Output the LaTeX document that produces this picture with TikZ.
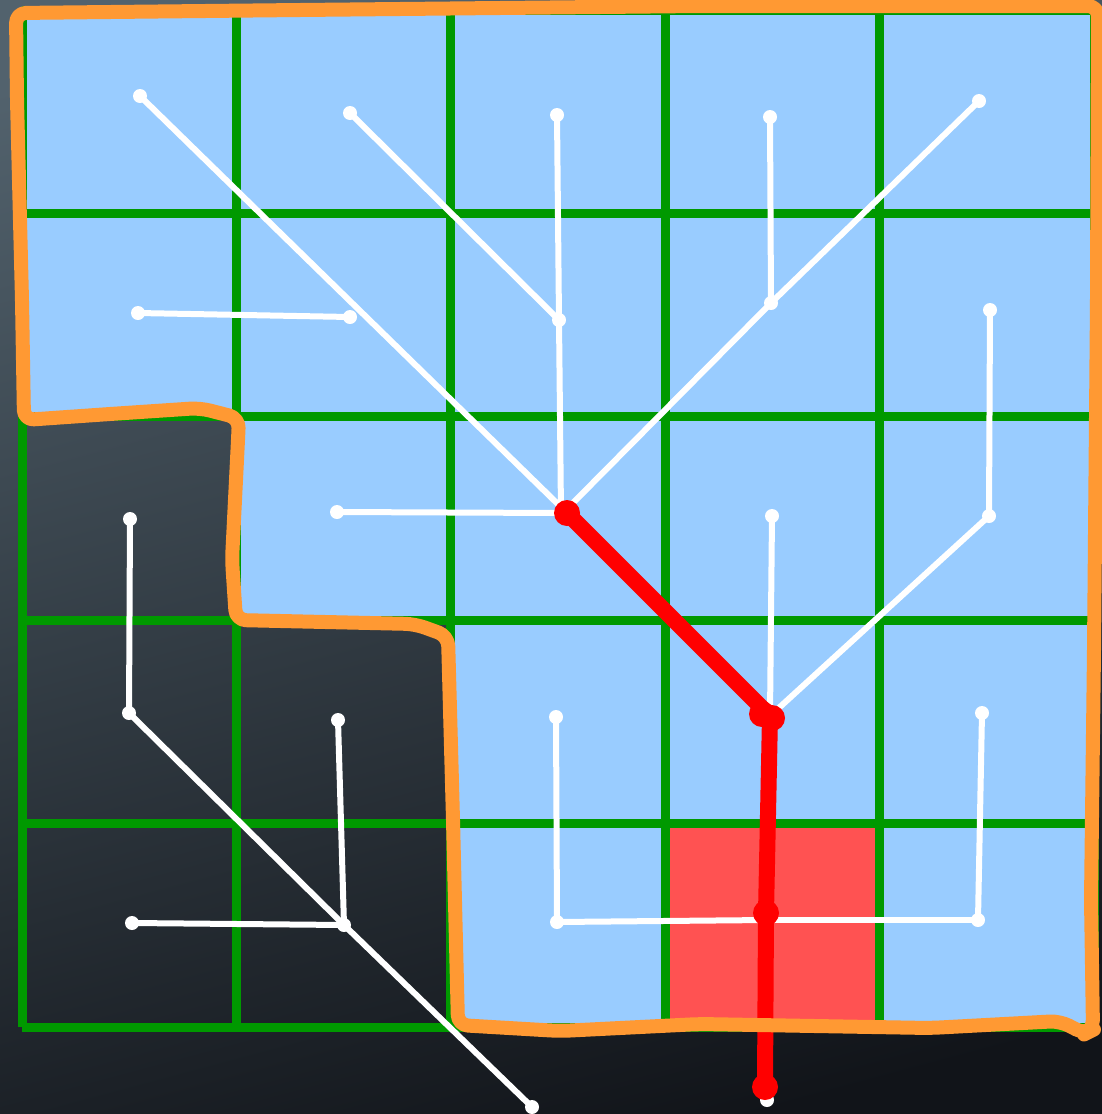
\documentclass[tikz,border=0pt]{standalone}
\usepackage{tikz}
\usetikzlibrary{calc}

\definecolor{cellblue}{HTML}{99CCFF}
\definecolor{cellred}{HTML}{FF5252}
\definecolor{gridgreen}{HTML}{009900}
\definecolor{rimorange}{HTML}{FF9933}
\definecolor{bgtop}{HTML}{52626D}
\definecolor{bgbot}{HTML}{111419}

\begin{document}
\begin{tikzpicture}[x=1pt,y=-1pt]
  \tikzstyle{bluecell}=[fill=cellblue]
  \tikzstyle{gridline}=[draw=gridgreen,line width=9pt]
  \tikzstyle{branch}=[draw=white,line width=6pt,line cap=round]
  \tikzstyle{redpath}=[draw=red,line width=16pt,line cap=round,line join=round]
  \tikzstyle{rim}=[draw=rimorange,line width=14pt,line join=round,line cap=round,rounded corners=10pt]
  \useasboundingbox (0,0) rectangle (1102,1114);
  \shade[top color=bgtop,bottom color=bgbot,shading angle=15] (-40,-40) rectangle (1142,1154);

  % cells
  \foreach \c/\r in {0/0,1/0,2/0,3/0,4/0,0/1,1/1,2/1,3/1,4/1,1/2,2/2,3/2,4/2,2/3,3/3,4/3,2/4,4/4}
    \fill[bluecell] ({22+214.4*\c},{10+203.4*\r}) rectangle ++(214.4,203.4);
  \fill[cellred] ({22+214.4*3},{10+203.4*4}) rectangle ++(214.4,203.4);

  % grid
  \foreach \i in {0,...,5} {
    \draw[gridline] ({22+214.4*\i},10) -- ({22+214.4*\i},1027);
    \draw[gridline] (22,{10+203.4*\i}) -- (1094,{10+203.4*\i});
  }

  % tree points
  \coordinate (a00) at (140,96);
  \coordinate (a10) at (350,113);
  \coordinate (a20) at (557,115);
  \coordinate (a30) at (770,117);
  \coordinate (a40) at (979,101);
  \coordinate (a01) at (138,313);
  \coordinate (a11) at (350,317);
  \coordinate (a21) at (559,320);
  \coordinate (a31) at (771,303);
  \coordinate (a41) at (990,310);
  \coordinate (a02) at (130,519);
  \coordinate (a12) at (337,512);
  \coordinate (a22) at (561,513);
  \coordinate (a22d) at (565,511);
  \coordinate (a32) at (772,516);
  \coordinate (a42) at (989,516);
  \coordinate (a03) at (129,713);
  \coordinate (a13) at (338,720);
  \coordinate (a23) at (556,717);
  \coordinate (a33) at (770,716);
  \coordinate (a43) at (982,713);
  \coordinate (a04) at (132,923);
  \coordinate (a14) at (344,925);
  \coordinate (a24) at (557,922);
  \coordinate (a34) at (767,920);
  \coordinate (a44) at (978,920);
  \coordinate (out1) at (532,1107);
  \coordinate (out2) at (767,1100);
  \coordinate (root) at (567,513);
  \coordinate (knee) at (766,913);
  \coordinate (leaf) at (765,1087);

  % white branches
  \foreach \p/\q in {a00/a22d,a10/a21,a20/a21,a21/a22,a30/a31,a40/a31,a31/a22d,a01/a11,
                     a41/a42,a12/a22,a32/a33,a42/a33,a02/a03,a03/a14,a14/out1,a13/a14,
                     a04/a14,a23/a24,a24/a34,a34/a44,a43/a44,a34/out2}
    \draw[branch] (\p) -- (\q);
  \foreach \p in {a00,a10,a20,a30,a40,a01,a11,a21,a31,a41,a02,a12,a22,a32,a42,
                  a03,a13,a23,a33,a43,a04,a14,a24,a34,a44,out1,out2}
    \fill[white] (\p) circle (7pt);

  % red path
  \draw[redpath] (root) -- (a33) -- (knee) -- (leaf);
  \foreach \p in {root,knee,leaf}
    \fill[red] (\p) circle (13pt);
  \fill[red] ($(a33)+(-8,-2)$) circle (13pt);
  \fill[red] ($(a33)+(2,2)$) circle (13pt);

  % region rim
  \draw[rim] (16,13) -- (300,10) -- (700,6) -- (1098,6)
    -- (1097,300) -- (1094,650) -- (1091,900) -- (1093,1030)
    -- (1085,1034) -- (1060,1021) -- (930,1028) -- (700,1024) -- (560,1031) -- (458,1025)
    -- (453,820) -- (448,636) -- (415,624) -- (236,620)
    -- (232,560) -- (238,440) -- (239,418) -- (200,408) -- (110,414) -- (24,420)
    -- (22,300) -- (17,100) -- cycle;
\end{tikzpicture}
\end{document}
